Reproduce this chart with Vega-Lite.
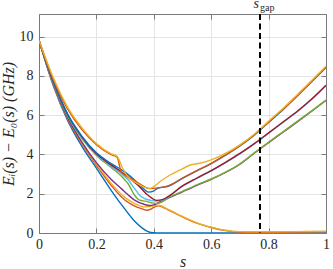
{
 "$schema": "https://vega.github.io/schema/vega-lite/v6.json",
 "width": 287, "height": 219, "autosize": "none",
 "padding": {"left": 39, "top": 14, "right": 7, "bottom": 36},
 "background": "white",
 "config": {
  "view": {"stroke": null},
  "font": "Liberation Serif, serif",
  "text": {"font": "Liberation Serif, serif"},
  "axis": {"domainColor": "#7a7a7a", "tickColor": "#7a7a7a", "gridColor": "#e4e4e4", "labelColor": "#262626", "titleColor": "#262626", "labelFont": "Liberation Serif, serif", "titleFont": "Liberation Serif, serif", "labelFontSize": 14, "titleFontSize": 16, "titleFontWeight": "normal"}
 },
 "layer": [
  {
   "data": {"values": [
    {"i":1,"s":0,"v":9.8},{"i":1,"s":0.05,"v":7.5},{"i":1,"s":0.1,"v":5.72},{"i":1,"s":0.15,"v":4.4},{"i":1,"s":0.2,"v":3.3},{"i":1,"s":0.25,"v":2.2},{"i":1,"s":0.3,"v":1.2},{"i":1,"s":0.33,"v":0.65},{"i":1,"s":0.36,"v":0.25},{"i":1,"s":0.38,"v":0.07},{"i":1,"s":0.4,"v":0.01},{"i":1,"s":0.42,"v":0},{"i":1,"s":0.5,"v":0},{"i":1,"s":0.6,"v":0},{"i":1,"s":0.7,"v":0},{"i":1,"s":0.8,"v":0},{"i":1,"s":0.9,"v":0},{"i":1,"s":1,"v":0},
    {"i":2,"s":0,"v":9.8},{"i":2,"s":0.05,"v":7.55},{"i":2,"s":0.1,"v":5.8},{"i":2,"s":0.15,"v":4.52},{"i":2,"s":0.2,"v":3.45},{"i":2,"s":0.25,"v":2.45},{"i":2,"s":0.3,"v":1.67},{"i":2,"s":0.33,"v":1.4},{"i":2,"s":0.357,"v":1.24},{"i":2,"s":0.374,"v":1.16},{"i":2,"s":0.39,"v":1.22},{"i":2,"s":0.403,"v":1.33},{"i":2,"s":0.415,"v":1.39},{"i":2,"s":0.455,"v":1.14},{"i":2,"s":0.5,"v":0.82},{"i":2,"s":0.55,"v":0.5},{"i":2,"s":0.6,"v":0.28},{"i":2,"s":0.65,"v":0.12},{"i":2,"s":0.7,"v":0.05},{"i":2,"s":0.75,"v":0.04},{"i":2,"s":0.8,"v":0.04},{"i":2,"s":0.9,"v":0.05},{"i":2,"s":1,"v":0.07},
    {"i":3,"s":0,"v":9.8},{"i":3,"s":0.05,"v":7.58},{"i":3,"s":0.1,"v":5.84},{"i":3,"s":0.15,"v":4.58},{"i":3,"s":0.2,"v":3.52},{"i":3,"s":0.25,"v":2.55},{"i":3,"s":0.3,"v":1.8},{"i":3,"s":0.333,"v":1.5},{"i":3,"s":0.368,"v":1.33},{"i":3,"s":0.39,"v":1.36},{"i":3,"s":0.415,"v":1.41},{"i":3,"s":0.455,"v":1.16},{"i":3,"s":0.5,"v":0.84},{"i":3,"s":0.55,"v":0.52},{"i":3,"s":0.6,"v":0.3},{"i":3,"s":0.65,"v":0.14},{"i":3,"s":0.7,"v":0.07},{"i":3,"s":0.75,"v":0.06},{"i":3,"s":0.8,"v":0.06},{"i":3,"s":0.9,"v":0.07},{"i":3,"s":1,"v":0.09},
    {"i":4,"s":0,"v":9.8},{"i":4,"s":0.05,"v":7.6},{"i":4,"s":0.1,"v":5.86},{"i":4,"s":0.15,"v":4.62},{"i":4,"s":0.2,"v":3.58},{"i":4,"s":0.25,"v":2.75},{"i":4,"s":0.287,"v":2.26},{"i":4,"s":0.31,"v":1.95},{"i":4,"s":0.333,"v":1.67},{"i":4,"s":0.368,"v":1.45},{"i":4,"s":0.385,"v":1.4},{"i":4,"s":0.4,"v":1.43},{"i":4,"s":0.426,"v":1.62},{"i":4,"s":0.455,"v":1.8},{"i":4,"s":0.5,"v":2.1},{"i":4,"s":0.55,"v":2.43},{"i":4,"s":0.6,"v":2.73},{"i":4,"s":0.65,"v":3.08},{"i":4,"s":0.7,"v":3.5},{"i":4,"s":0.75,"v":4.06},{"i":4,"s":0.8,"v":4.6},{"i":4,"s":0.85,"v":5.13},{"i":4,"s":0.9,"v":5.66},{"i":4,"s":0.95,"v":6.2},{"i":4,"s":1,"v":6.75},
    {"i":5,"s":0,"v":9.8},{"i":5,"s":0.05,"v":7.65},{"i":5,"s":0.1,"v":5.95},{"i":5,"s":0.15,"v":4.8},{"i":5,"s":0.2,"v":3.95},{"i":5,"s":0.25,"v":3.35},{"i":5,"s":0.29,"v":2.85},{"i":5,"s":0.31,"v":2.52},{"i":5,"s":0.333,"v":1.92},{"i":5,"s":0.351,"v":1.67},{"i":5,"s":0.37,"v":1.62},{"i":5,"s":0.39,"v":1.55},{"i":5,"s":0.41,"v":1.5},{"i":5,"s":0.43,"v":1.6},{"i":5,"s":0.455,"v":1.82},{"i":5,"s":0.5,"v":2.12},{"i":5,"s":0.55,"v":2.45},{"i":5,"s":0.6,"v":2.75},{"i":5,"s":0.65,"v":3.1},{"i":5,"s":0.7,"v":3.52},{"i":5,"s":0.75,"v":4.08},{"i":5,"s":0.8,"v":4.62},{"i":5,"s":0.85,"v":5.15},{"i":5,"s":0.9,"v":5.68},{"i":5,"s":0.95,"v":6.22},{"i":5,"s":1,"v":6.77},
    {"i":6,"s":0,"v":9.8},{"i":6,"s":0.05,"v":7.68},{"i":6,"s":0.1,"v":6.0},{"i":6,"s":0.15,"v":4.85},{"i":6,"s":0.2,"v":4.0},{"i":6,"s":0.25,"v":3.42},{"i":6,"s":0.29,"v":2.98},{"i":6,"s":0.31,"v":2.72},{"i":6,"s":0.333,"v":2.26},{"i":6,"s":0.351,"v":1.92},{"i":6,"s":0.368,"v":1.75},{"i":6,"s":0.39,"v":1.66},{"i":6,"s":0.41,"v":1.63},{"i":6,"s":0.43,"v":1.67},{"i":6,"s":0.455,"v":1.88},{"i":6,"s":0.5,"v":2.38},{"i":6,"s":0.55,"v":2.78},{"i":6,"s":0.6,"v":3.16},{"i":6,"s":0.65,"v":3.58},{"i":6,"s":0.7,"v":4.03},{"i":6,"s":0.75,"v":4.53},{"i":6,"s":0.8,"v":5.08},{"i":6,"s":0.85,"v":5.63},{"i":6,"s":0.9,"v":6.18},{"i":6,"s":0.95,"v":6.8},{"i":6,"s":1,"v":7.5},
    {"i":7,"s":0,"v":9.8},{"i":7,"s":0.05,"v":7.7},{"i":7,"s":0.1,"v":6.02},{"i":7,"s":0.15,"v":4.88},{"i":7,"s":0.2,"v":4.03},{"i":7,"s":0.25,"v":3.48},{"i":7,"s":0.287,"v":3.11},{"i":7,"s":0.31,"v":2.85},{"i":7,"s":0.345,"v":2.43},{"i":7,"s":0.38,"v":1.92},{"i":7,"s":0.41,"v":1.66},{"i":7,"s":0.43,"v":1.7},{"i":7,"s":0.455,"v":1.9},{"i":7,"s":0.5,"v":2.4},{"i":7,"s":0.55,"v":2.8},{"i":7,"s":0.6,"v":3.18},{"i":7,"s":0.65,"v":3.6},{"i":7,"s":0.7,"v":4.05},{"i":7,"s":0.75,"v":4.55},{"i":7,"s":0.8,"v":5.1},{"i":7,"s":0.85,"v":5.65},{"i":7,"s":0.9,"v":6.2},{"i":7,"s":0.95,"v":6.82},{"i":7,"s":1,"v":7.52},
    {"i":8,"s":0,"v":9.8},{"i":8,"s":0.05,"v":7.72},{"i":8,"s":0.1,"v":6.05},{"i":8,"s":0.15,"v":4.92},{"i":8,"s":0.2,"v":4.08},{"i":8,"s":0.25,"v":3.55},{"i":8,"s":0.3,"v":3.1},{"i":8,"s":0.34,"v":2.6},{"i":8,"s":0.368,"v":2.2},{"i":8,"s":0.383,"v":2.08},{"i":8,"s":0.397,"v":2.12},{"i":8,"s":0.415,"v":2.28},{"i":8,"s":0.45,"v":2.38},{"i":8,"s":0.5,"v":2.78},{"i":8,"s":0.55,"v":3.16},{"i":8,"s":0.6,"v":3.53},{"i":8,"s":0.65,"v":3.96},{"i":8,"s":0.7,"v":4.43},{"i":8,"s":0.75,"v":4.98},{"i":8,"s":0.8,"v":5.63},{"i":8,"s":0.85,"v":6.28},{"i":8,"s":0.9,"v":6.98},{"i":8,"s":0.95,"v":7.7},{"i":8,"s":1,"v":8.43},
    {"i":9,"s":0,"v":9.8},{"i":9,"s":0.05,"v":7.82},{"i":9,"s":0.1,"v":6.3},{"i":9,"s":0.15,"v":5.25},{"i":9,"s":0.2,"v":4.5},{"i":9,"s":0.25,"v":4.0},{"i":9,"s":0.272,"v":3.86},{"i":9,"s":0.287,"v":3.1},{"i":9,"s":0.3,"v":2.95},{"i":9,"s":0.322,"v":2.77},{"i":9,"s":0.345,"v":2.55},{"i":9,"s":0.368,"v":2.35},{"i":9,"s":0.386,"v":2.26},{"i":9,"s":0.415,"v":2.3},{"i":9,"s":0.45,"v":2.4},{"i":9,"s":0.5,"v":2.8},{"i":9,"s":0.55,"v":3.18},{"i":9,"s":0.6,"v":3.55},{"i":9,"s":0.65,"v":3.98},{"i":9,"s":0.7,"v":4.45},{"i":9,"s":0.75,"v":5.0},{"i":9,"s":0.8,"v":5.65},{"i":9,"s":0.85,"v":6.3},{"i":9,"s":0.9,"v":7.0},{"i":9,"s":0.95,"v":7.72},{"i":9,"s":1,"v":8.45},
    {"i":10,"s":0,"v":9.8},{"i":10,"s":0.05,"v":7.9},{"i":10,"s":0.1,"v":6.4},{"i":10,"s":0.15,"v":5.35},{"i":10,"s":0.2,"v":4.55},{"i":10,"s":0.25,"v":4.04},{"i":10,"s":0.272,"v":3.9},{"i":10,"s":0.29,"v":3.35},{"i":10,"s":0.31,"v":2.86},{"i":10,"s":0.34,"v":2.55},{"i":10,"s":0.368,"v":2.32},{"i":10,"s":0.386,"v":2.27},{"i":10,"s":0.4,"v":2.36},{"i":10,"s":0.42,"v":2.6},{"i":10,"s":0.455,"v":2.94},{"i":10,"s":0.49,"v":3.2},{"i":10,"s":0.525,"v":3.45},{"i":10,"s":0.56,"v":3.55},{"i":10,"s":0.6,"v":3.72},{"i":10,"s":0.65,"v":4.05},{"i":10,"s":0.7,"v":4.49},{"i":10,"s":0.75,"v":5.03},{"i":10,"s":0.8,"v":5.69},{"i":10,"s":0.85,"v":6.34},{"i":10,"s":0.9,"v":7.04},{"i":10,"s":0.95,"v":7.76},{"i":10,"s":1,"v":8.49}
   ]},
   "mark": {"type": "line", "interpolate": "monotone", "strokeWidth": 1.4, "clip": true},
   "encoding": {
    "x": {"field": "s", "type": "quantitative", "scale": {"domain": [0, 1], "nice": false},
     "axis": {"orient": "bottom", "values": [0, 0.2, 0.4, 0.6, 0.8, 1], "format": "~g", "tickSize": -5, "labelPadding": 9, "title": "s", "titleFontStyle": "italic", "titlePadding": 2, "grid": true, "labelFlush": false}},
    "y": {"field": "v", "type": "quantitative", "scale": {"domain": [0, 11.15], "nice": false, "zero": false},
     "axis": {"orient": "left", "values": [0, 2, 4, 6, 8, 10], "tickSize": -5, "labelPadding": 11, "title": "Eᵢ(s)  −  E₀(s)  (GHz)", "titleFontStyle": "italic", "titlePadding": 3, "grid": true}},
    "color": {"field": "i", "type": "nominal", "scale": {"domain": [1,2,3,4,5,6,7,8,9,10], "range": ["#0072BD","#D95319","#EDB120","#7E2F8E","#77AC30","#4DBEEE","#A2142F","#0072BD","#D95319","#EDB120"]}, "legend": null}
   }
  },
  {
   "data": {"values": [{"s": 0.77}]},
   "mark": {"type": "rule", "strokeDash": [6, 3.5], "strokeWidth": 2, "color": "black"},
   "encoding": {
    "x": {"field": "s", "type": "quantitative", "scale": {"domain": [0, 1], "nice": false},
     "axis": {"orient": "top", "values": [0, 0.2, 0.4, 0.6, 0.8, 1], "tickSize": -5, "labels": false, "title": null, "grid": false}}
   }
  },
  {
   "data": {"values": [{"s": 0.77, "v": 11.45, "t": "s"}]},
   "mark": {"type": "text", "fontStyle": "italic", "fontSize": 14, "align": "right", "baseline": "alphabetic", "dx": -1, "dy": 0, "color": "#262626"},
   "encoding": {
    "x": {"field": "s", "type": "quantitative", "scale": {"domain": [0, 1], "nice": false}, "axis": null},
    "y": {"field": "v", "type": "quantitative", "scale": {"domain": [0, 11.15], "nice": false, "zero": false},
     "axis": {"orient": "right", "values": [0, 2, 4, 6, 8, 10], "tickSize": -5, "labels": false, "title": null, "grid": false}},
    "text": {"field": "t"}
   }
  },
  {
   "data": {"values": [{"s": 0.77, "v": 11.45, "t": "gap"}]},
   "mark": {"type": "text", "fontSize": 10, "align": "left", "baseline": "alphabetic", "dx": 0, "dy": 3, "color": "#262626"},
   "encoding": {
    "x": {"field": "s", "type": "quantitative", "scale": {"domain": [0, 1], "nice": false}, "axis": null},
    "y": {"field": "v", "type": "quantitative", "scale": {"domain": [0, 11.15], "nice": false, "zero": false}, "axis": null},
    "text": {"field": "t"}
   }
  }
 ],
 "resolve": {"axis": {"x": "independent", "y": "independent"}}
}
